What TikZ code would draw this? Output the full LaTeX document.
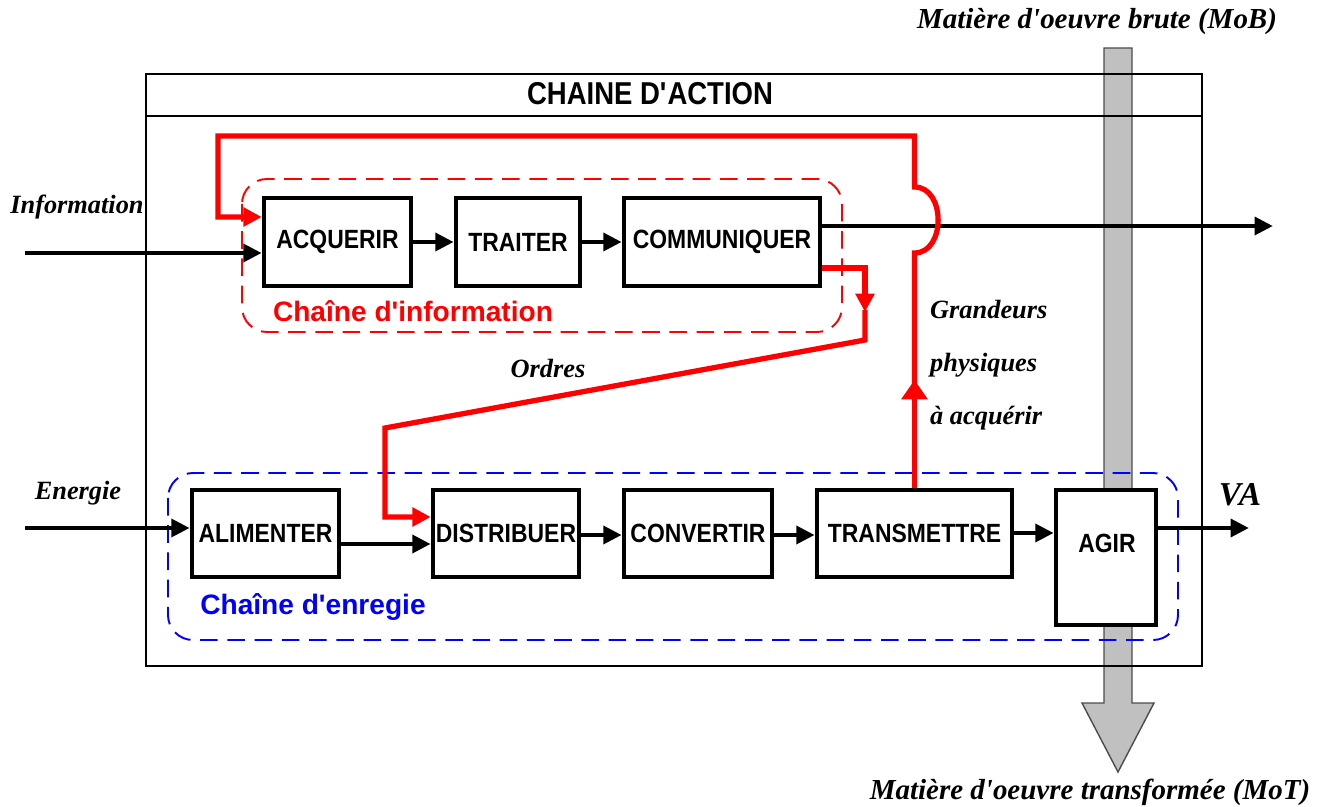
\documentclass[tikz,border=0pt]{standalone}
\usepackage{fontspec}
\setmainfont{Liberation Serif}
\newfontfamily\labelsans{Liberation Sans}
\newfontfamily\boxsans[FakeStretch=0.87]{Liberation Sans}
\usepackage{tikz}
\usetikzlibrary{arrows.meta, positioning}
\definecolor{BarGray}{HTML}{C0C0C0}
\definecolor{InfoRed}{HTML}{FF0000}
\definecolor{EnergyBlue}{HTML}{0000FF}

\tikzset{
  blockbox/.style={draw, line width=2.6pt, fill=white, inner sep=0pt,
    font=\boxsans\bfseries\fontsize{15}{17}\selectfont},
  flow/.style={line width=2.7pt, -{Triangle[length=10.5pt,width=10pt]}},
  order/.style={InfoRed, line width=3pt, -{Triangle[length=10.5pt,width=10.5pt]}},
  chainframe/.style={line width=1.1pt, dash pattern=on 10pt off 5.5pt, rounded corners=0.5cm},
  tag/.style={font=\bfseries\itshape\fontsize{15}{18}\selectfont},
}

\begin{document}
\begin{tikzpicture}[x=0.02cm, y=-0.02cm]
  \useasboundingbox (0,0) rectangle (1329,807);
  % Matter flow
  \filldraw[fill=BarGray, draw=black!70, line width=0.8pt]
    (1104,48) -- (1132,48) -- (1132,703) -- (1154,703) -- (1118,772)
    -- (1082,703) -- (1104,703) -- cycle;
  % Action chain frame
  \draw[line width=1pt] (146,74) rectangle (1202,666);
  \draw[line width=1pt] (146,116) -- (1202,116);
  \node[font=\boxsans\bfseries\fontsize{18}{20}\selectfont] (title) at (650,94)
    {CHAINE D\textquotesingle ACTION};
  % Chains
  \draw[chainframe, InfoRed] (242,179) rectangle (842,332);
  \draw[chainframe, EnergyBlue] (168,473) rectangle (1178,640);
  % Function blocks
  \foreach \nm/\txt/\cx/\bw in {acq/ACQUERIR/337.5/2.94, trait/TRAITER/518/2.48,
                                comm/COMMUNIQUER/722/3.92}{
    \node[blockbox, minimum width=\bw cm, minimum height=1.76cm] (\nm) at (\cx,242) {\txt};
  }
  \foreach \nm/\txt/\cx/\bw in {alim/ALIMENTER/265.5/2.94, distr/DISTRIBUER/506/2.92,
                                conv/CONVERTIR/698/2.96, trans/TRANSMETTRE/914.5/3.9}{
    \node[blockbox, minimum width=\bw cm, minimum height=1.74cm] (\nm) at (\cx,533.5) {\txt};
  }
  \node[blockbox, minimum width=2cm, minimum height=2.7cm] (agir) at (1106,557.5) {};
  \node[font=\boxsans\bfseries\fontsize{15}{17}\selectfont] (agirlbl) at (1107,543) {AGIR};
  % Inputs and outputs
  \coordinate (infoin) at (25,253);
  \coordinate (infoout) at (1273,226);
  \coordinate (enin) at (25,528);
  \coordinate (vaout) at (1249,528);
  \draw[flow] (infoin) -- (infoin -| acq.west);
  \draw[flow] (acq.east) -- (trait.west);
  \draw[flow] (trait.east) -- (comm.west);
  \draw[flow] (comm.east |- infoout) -- (infoout);
  \draw[flow] (enin) -- (enin -| alim.west);
  \draw[flow] (alim.east |- 0,544) -- (distr.west |- 0,544);
  \draw[flow] (distr.east |- 0,535) -- (conv.west |- 0,535);
  \draw[flow] (conv.east |- 0,535) -- (trans.west |- 0,535);
  \draw[flow] (trans.east |- 0,533) -- (agir.west |- 0,533);
  \draw[flow] (agir.east |- vaout) -- (vaout);
  % Orders
  \draw[order] (comm.east |- 0,268) -- (865,268) -- (865,312);
  \draw[order] (865,310) -- (865,340) -- (385,428) -- (385,517) -- (distr.west |- 0,517);
  % Feedback
  \draw[order, -{Triangle[length=11pt,width=14.5pt]}] (trans.north) -- (trans.north |- 0,380);
  \draw[order] (trans.north |- 0,395) -- (trans.north |- 0,253)
    .. controls (946,253) and (946,187) .. (trans.north |- 0,187)
    -- (trans.north |- 0,136) -- (218,136) -- (218,217) -- (acq.west |- 0,217);
  % Labels
  \node[text=InfoRed, font=\labelsans\bfseries\fontsize{16}{18}\selectfont] (infolbl)
    at (413,311) {Chaîne d\textquotesingle information};
  \node[text=EnergyBlue, font=\labelsans\bfseries\fontsize{16}{18}\selectfont] (enlbl)
    at (313,607) {Chaîne d\textquotesingle enregie};
  \node[tag] (infotag) at (77,207) {Information};
  \node[tag] (entag) at (78,493) {Energie};
  \node[tag] (ordtag) at (548,368) {Ordres};
  \node[tag, align=left, anchor=west, font=\bfseries\itshape\fontsize{15}{30}\selectfont]
    (grandtag) at (924,365) {Grandeurs\\physiques\\à acquérir};
  \node[font=\bfseries\itshape\fontsize{19}{22}\selectfont] (vatag) at (1240,495) {VA};
  \node[tag, font=\bfseries\itshape\fontsize{16.5}{20}\selectfont] (mobtag) at (1097,22)
    {Matière d\textquotesingle oeuvre brute (MoB)};
  \node[tag, font=\bfseries\itshape\fontsize{16.5}{20}\selectfont] (mottag) at (1090,792)
    {Matière d\textquotesingle oeuvre transformée (MoT)};
\end{tikzpicture}
\end{document}
